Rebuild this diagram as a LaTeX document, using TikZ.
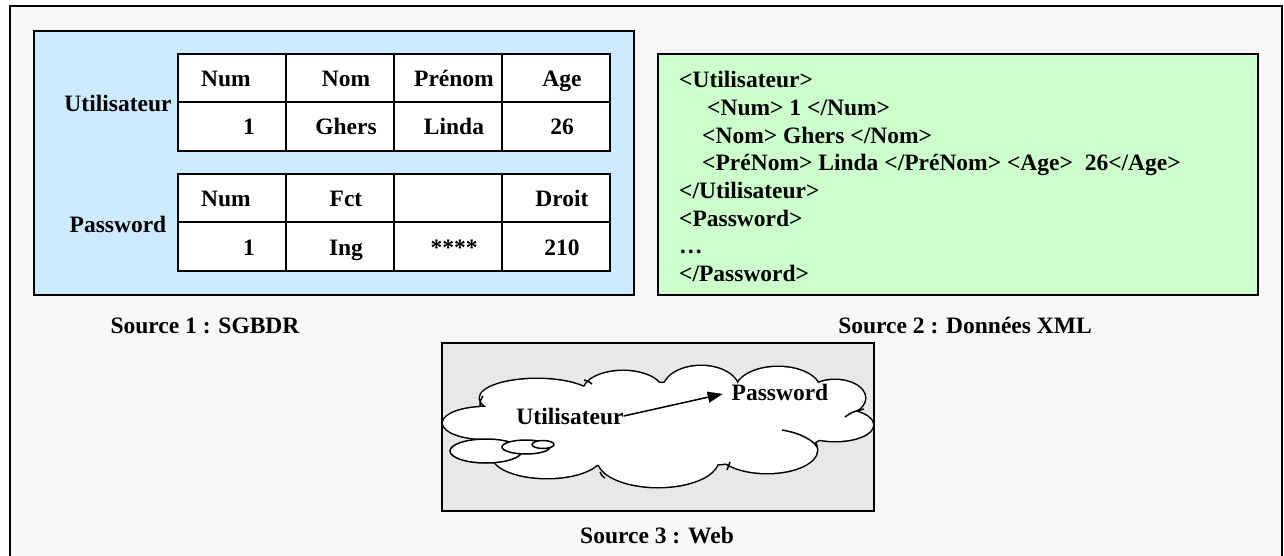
\documentclass[tikz,border=0pt]{standalone}
\usepackage{fontspec}
\setmainfont{Liberation Serif}
\usetikzlibrary{arrows.meta}
\definecolor{pagebg}{RGB}{247,247,247}
\definecolor{sqlblue}{RGB}{204,235,255}
\definecolor{xmlgreen}{RGB}{204,255,204}
\definecolor{webgray}{RGB}{232,232,232}

\begin{document}
\begin{tikzpicture}[x=1pt,y=-1pt,
  every node/.style={font=\fontsize{23.5}{27.6}\selectfont\bfseries, inner sep=0pt},
  cell/.style={anchor=base},
  xmlline/.style={anchor=base west},
  panel/.style={draw=black, line width=2.5pt},
  tbl/.style={draw=black, line width=2pt},
  puff/.style={draw=black, line width=3pt},
  puffin/.style={fill=white},
  tail/.style={draw=black, fill=white, line width=1.5pt},
  fold/.style={draw=black, line width=1.5pt},
  link/.style={-{Triangle[length=15pt,width=11pt]}, line width=1.5pt, shorten >=9pt}]
\clip (0,0) rectangle (1284,556);
\fill[white] (0,0) rectangle (1284,556);
\draw[line width=2.5pt, fill=pagebg] (10,6) rectangle (1282,575);

% ---- Source 1 : relational tables
\draw[panel, fill=sqlblue] (34,31) rectangle (634,295);
\draw[tbl, fill=white] (178,54) rectangle (610,151);
\draw[tbl] (178,102) -- (610,102)
           (286,54) -- (286,151) (394,54) -- (394,151) (502,54) -- (502,151);
\draw[tbl, fill=white] (178,174) rectangle (610,271);
\draw[tbl] (178,222) -- (610,222)
           (286,174) -- (286,271) (394,174) -- (394,271) (502,174) -- (502,271);

\node[cell] (tu) at (118,112) {Utilisateur};
\node[cell] (u11) at (226,87) {Num};
\node[cell] (u12) at (346,87) {Nom};
\node[cell] (u13) at (454,87) {Prénom};
\node[cell] (u14) at (562,87) {Age};
\node[cell] (u21) at (249,135) {1};
\node[cell] (u22) at (346,135) {Ghers};
\node[cell] (u23) at (454,135) {Linda};
\node[cell] (u24) at (562,135) {26};

\node[cell] (tp) at (118,232) {Password};
\node[cell] (p11) at (226,207) {Num};
\node[cell] (p12) at (346,207) {Fct};
\node[cell] (p14) at (562,207) {Droit};
\node[cell] (p21) at (249,255) {1};
\node[cell] (p22) at (346,255) {Ing};
\node[cell] (p23) at (454,255) {****};
\node[cell] (p24) at (562,255) {210};

\node[cell] (s1) at (205,333) {Source 1 : SGBDR};

% ---- Source 2 : XML document
\draw[panel, fill=xmlgreen] (658,54) rectangle (1258,295);
\node[xmlline] (x1) at (679,88)    {<Utilisateur>};
\node[xmlline] (x2) at (707,115.6) {<Num> 1 </Num>};
\node[xmlline] (x3) at (702,143.2) {<Nom> Ghers </Nom>};
\node[xmlline] (x4) at (702,170.8) {<PréNom> Linda </PréNom> <Age>\ \ 26</Age>};
\node[xmlline] (x5) at (679,198.4) {</Utilisateur>};
\node[xmlline] (x6) at (679,226)   {<Password>};
\node[xmlline] (x7) at (679,253.6) {…};
\node[xmlline] (x8) at (679,281.2) {</Password>};

\node[cell] (s2) at (965,333) {Source 2 : Données XML};

% ---- Source 3 : web cloud
\draw[tbl, fill=webgray] (442,343) rectangle (874,511);
% cloud outline: stroked puffs, then their interiors painted over
\foreach \cx/\cy/\rx/\ry in {487/423/44/16, 537/398/57/19, 623/392/40/21,
    701/390/38/24, 778/390/42/23, 835/398/30/18, 835/425/38/16,
    767/450/50/23, 658/460/60/27, 547/455/55/23, 655/425/175/42}
  \draw[puff] (\cx,\cy) ellipse [x radius=\rx pt, y radius=\ry pt];
\foreach \cx/\cy/\rx/\ry in {487/423/44/16, 537/398/57/19, 623/392/40/21,
    701/390/38/24, 778/390/42/23, 835/398/30/18, 835/425/38/16,
    767/450/50/23, 658/460/60/27, 547/455/55/23, 655/425/175/42}
  \fill[puffin] (\cx,\cy) ellipse [x radius=\rx pt, y radius=\ry pt];
% inner folds of the cloud
\draw[fold] (845,417) .. controls (852,412) .. (864,409);
\draw[fold] (782,430) .. controls (800,433) and (813,440) .. (817,447);
\draw[fold] (480,406) .. controls (480,401) .. (483,396);
\draw[fold] (592,384) .. controls (588,381) .. (584,380);
\draw[fold] (730,462) .. controls (728,466) .. (727,470);
\draw[fold] (600,472) .. controls (602,476) .. (605,478);
% callout tail
\draw[tail] (486,451) ellipse [x radius=36pt, y radius=12pt];
\draw[tail] (526,447) ellipse [x radius=24pt, y radius=7pt];
\draw[tail] (543,444.5) ellipse [x radius=11pt, y radius=4pt];

\node[cell] (wu) at (570,424) {Utilisateur};
\node[cell] (wp) at (780,400) {Password};
\draw[link] (wu.east) -- (wp.west);

\node[cell] (s3) at (657,543) {Source 3 : Web};
\end{tikzpicture}
\end{document}
